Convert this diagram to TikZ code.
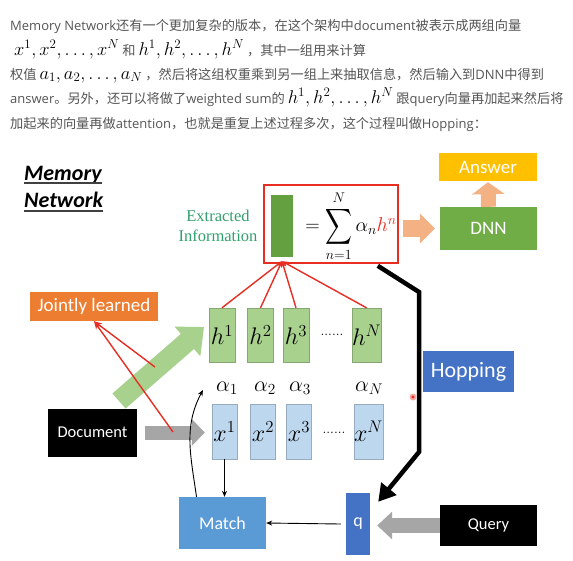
\documentclass[tikz,border=0pt]{standalone}
\usepackage{fix-cm}
\usepackage{fontspec}
\usepackage{amsmath}
\usetikzlibrary{arrows.meta,positioning,calc}
\newfontfamily\cjk{Noto Sans CJK SC}
\newfontfamily\enfont{Open Sans}
\newfontfamily\boxfont{Carlito}
\newfontfamily\extfont{Liberation Serif}
\definecolor{memgray}{RGB}{85,85,85}
\definecolor{memgreen}{RGB}{112,173,71}
\definecolor{membar}{RGB}{100,160,64}
\definecolor{memlgreen}{RGB}{169,209,142}
\definecolor{memlblue}{RGB}{189,215,238}
\definecolor{memblue}{RGB}{91,155,213}
\definecolor{memdblue}{RGB}{68,114,196}
\definecolor{memorange}{RGB}{237,125,49}
\definecolor{memgold}{RGB}{255,192,0}
\definecolor{memsalmon}{RGB}{244,177,131}
\definecolor{memred}{RGB}{232,45,35}
\definecolor{memteal}{RGB}{50,160,110}
\definecolor{memgrey}{RGB}{166,166,166}
\newcommand{\vecs}[1]{{\color{black}\fontsize{18.5}{19}\selectfont$#1$}}
\newcommand{\en}[1]{{\enfont\fontsize{13}{16}\selectfont #1}}

\begin{document}
\begin{tikzpicture}[
    x=1pt, y=-1pt,
    txt/.style={inner sep=0pt, text=memgray, font=\cjk\fontsize{13.2}{16}\selectfont},
    vec/.style={rectangle, draw=#1!80!black, fill=#1, minimum width=26pt, minimum height=54pt, inner sep=0pt, font=\fontsize{24}{26}\selectfont},
    block/.style={rectangle, fill=#1, text=white, inner sep=0pt, font=\boxfont\fontsize{18}{20}\selectfont},
    redln/.style={memred, line width=1.4pt},
    fat/.style={#1, line width=14pt},
    thinarrow/.style={-{Stealth[length=6pt,width=5pt]}, line width=0.9pt}
]
\useasboundingbox (0,0) rectangle (573,560);
\fill[white] (0,0) rectangle (573,560);

% Text above the picture
\node[txt, anchor=base west] (l1) at (10,30) {\en{Memory Network}还有一个更加复杂的版本，在这个架构中\en{document}被表示成两组向量};
\node[txt, anchor=base west] (l2) at (14,55) {\vecs{x^1,x^2,\ldots,x^N} 和 \vecs{h^1,h^2,\ldots,h^N} ，其中一组用来计算};
\node[txt, anchor=base west] (l3) at (10,79) {权值 \vecs{a_1,a_2,\ldots,a_N} ，然后将这组权重乘到另一组上来抽取信息，然后输入到\en{DNN}中得到};
\node[txt, anchor=base west] (l4) at (10,103) {\en{answer}。另外，还可以将做了\en{weighted sum}的 \vecs{h^1,h^2,\ldots,h^N} 跟\en{query}向量再加起来然后将};
\node[txt, anchor=base west] (l5) at (10,128) {加起来的向量再做\en{attention}，也就是重复上述过程多次，这个过程叫做\en{Hopping}：};

% Title
\node[anchor=base west, inner sep=0pt, font=\boxfont\bfseries\itshape\fontsize{22}{26}\selectfont] (title1) at (24,180) {Memory};
\node[anchor=base west, inner sep=0pt, font=\boxfont\bfseries\itshape\fontsize{22}{26}\selectfont] (title2) at (24,207) {Network};
\draw[line width=1.6pt, black!75] ([yshift=-3pt]title1.base west) -- ([yshift=-3pt]title1.base east);
\draw[line width=1.6pt, black!75] ([yshift=-4pt]title2.base west) -- ([yshift=-4pt]title2.base east);

% Extracted information
\node[align=center, inner sep=0pt, text=memteal, font=\extfont\fontsize{16.5}{20}\selectfont] (extlabel) at (218,226) {Extracted\\Information};
\node[draw=memred, line width=1.6pt, minimum width=134pt, minimum height=78pt, inner sep=0pt] (ext) at (331,224) {};
\node[fill=membar, minimum width=22pt, minimum height=62pt, inner sep=0pt] (bar) at (282,226) {};
\node[inner sep=0pt, font=\fontsize{20}{22}\selectfont] (sum) at (351,226) {$=\mathop{\vcenter{\hbox{\scalebox{0.9}[1.2]{$\displaystyle\sum$}}}}\limits_{n=1}^{N}\alpha_n{\color{memred}h^n}$};

% DNN and answer
\node[block=memgreen, minimum width=97pt, minimum height=43pt, font=\boxfont\fontsize{19}{21}\selectfont] (dnn) at (488.5,228.5) {DNN};
\node[block=memgold, minimum width=98pt, minimum height=28pt, font=\boxfont\fontsize{19}{21}\selectfont] (answer) at (488,167) {Answer};
\draw[memsalmon, line width=17pt, -{Triangle[length=15pt,width=29pt]}] ($(ext.east|-dnn.west)+(4,0)$) -- ($(dnn.west)+(-5,0)$);
\draw[memsalmon, line width=15pt, -{Triangle[length=12pt,width=32pt]}] (dnn.north) -- ($(answer.south)+(0,1)$);

% Vectors h and x
\node[vec=memlgreen] (h1) at (222,335) {$h^1$};
\node[vec=memlgreen] (h2) at (260.5,335) {$h^2$};
\node[vec=memlgreen] (h3) at (296,335) {$h^3$};
\node[vec=memlgreen] (hN) at (366.5,335) {$h^N$};
\node[inner sep=0pt, font=\fontsize{14}{14}\selectfont] (hdots) at (332,335) {......};

\node[vec=memlblue, minimum width=25pt, minimum height=55pt] (x1) at (224.5,431.5) {$x^1$};
\node[vec=memlblue, minimum width=25pt, minimum height=55pt] (x2) at (263,431.5) {$x^2$};
\node[vec=memlblue, minimum width=25pt, minimum height=55pt] (x3) at (299,431.5) {$x^3$};
\node[vec=memlblue, minimum width=25pt, minimum height=55pt] (xN) at (368.5,431.5) {$x^N$};
\node[inner sep=0pt, font=\fontsize{14}{14}\selectfont] (xdots) at (334,433) {......};

\node[inner sep=0pt, font=\fontsize{22}{22}\selectfont] (a1) at (227,388) {$\alpha_1$};
\node[inner sep=0pt, font=\fontsize{22}{22}\selectfont] (a2) at (265,388) {$\alpha_2$};
\node[inner sep=0pt, font=\fontsize{22}{22}\selectfont] (a3) at (300,388) {$\alpha_3$};
\node[inner sep=0pt, font=\fontsize{22}{22}\selectfont] (aN) at (369,388) {$\alpha_N$};

% Red weights into the extracted vector
\foreach \h in {h1,h2,h3,hN}
    \draw[redln, -{Stealth[length=6pt,width=5pt]}] (\h.north) -- ($(bar.south)+(0,4)$);

% Document side
\node[block=black, minimum width=89pt, minimum height=48pt, font=\boxfont\fontsize{16.5}{18}\selectfont] (doc) at (92.5,432.5) {Document};
\node[block=memorange, minimum width=128pt, minimum height=29pt, font=\boxfont\fontsize{19}{21}\selectfont] (jl) at (94,306.5) {Jointly learned};
\coordinate (gtail) at (119,401);
\coordinate (gtip) at (204,327);
\draw[memlgreen, line width=20pt, -{Triangle[length=22pt,width=38pt]}] (gtail) -- (gtip);
\draw[fat=memgrey, -{Triangle[length=13pt,width=26pt]}] ($(doc.east)+(8,0)$) -- ($(x1.west|-doc.east)+(-7,0)$);
\coordinate (jlA) at (155,367);
\coordinate (jlB) at (173,432);
\draw[redln, -{Stealth[length=8pt,width=6pt]}] (jlA) -- (jl.south);
\draw[redln, -{Stealth[length=8pt,width=6pt]}] (jlB) -- (jl.south);

% Query side
\node[block=memblue, minimum width=87pt, minimum height=52pt] (match) at (222.5,523) {Match};
\node[block=memdblue, minimum width=24pt, minimum height=62pt] (q) at (358,524) {q};
\node[block=black, minimum width=97pt, minimum height=41pt, font=\boxfont\fontsize{16.5}{18}\selectfont] (query) at (488.5,525.5) {Query};
\node[block=memdblue, minimum width=91pt, minimum height=41pt, font=\boxfont\fontsize{22}{24}\selectfont] (hop) at (468.5,371.5) {Hopping};

\draw[fat=memgrey, line width=15pt, -{Triangle[length=15pt,width=27pt]}] (query.west) -- ($(q.east|-query.west)+(7,0)$);
\draw[thinarrow] ($(q.west)+(-5,0)$) -- (match.east);
\draw[thinarrow] (x1.south) -- (x1.south|-match.north);
\draw[thinarrow] ($(match.north)+(-26,0)$) to[out=98,in=242] ($(a1.west)+(-13,2)$);

% Hopping loop
\coordinate (hopS) at ($(ext.south east)+(-21,2)$);
\coordinate (hopA) at (419,292);
\coordinate (hopB) at (419,452);
\draw[line width=4.5pt, -{Triangle[length=17pt,width=19pt]}] (hopS) -- (hopA) -- (hopB) -- ($(q.north east)+(8,9)$);

% Pointer
\fill[memred!40] (413,397) circle (3.5pt);
\fill[memred] (413,397) circle (1.6pt);

\end{tikzpicture}
\end{document}
